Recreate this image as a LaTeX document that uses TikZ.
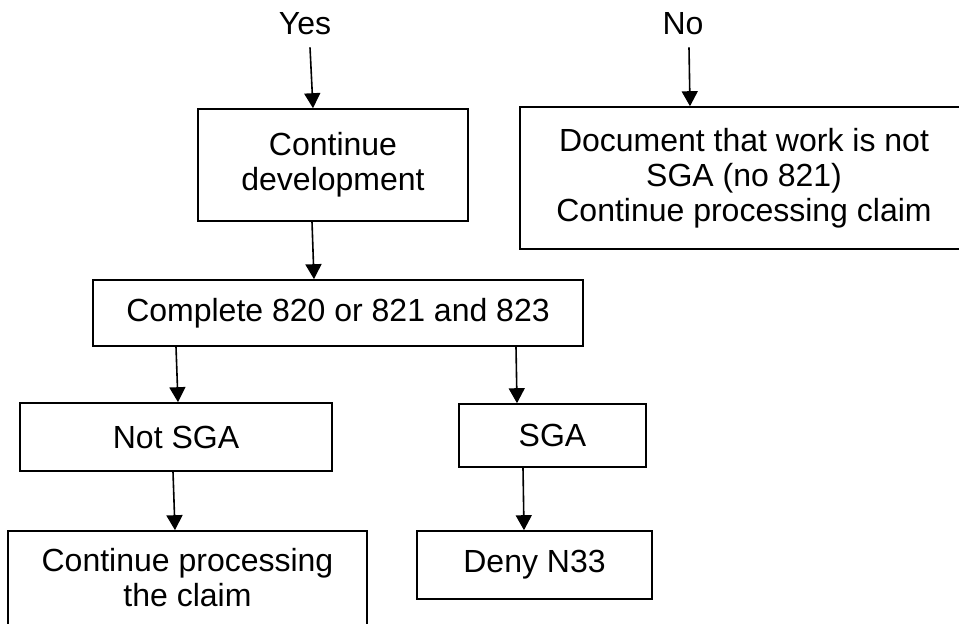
\documentclass[tikz,border=0pt]{standalone}
\usepackage{fontspec}
\setmainfont{Liberation Sans}
\usetikzlibrary{arrows.meta}
\begin{document}
\begin{tikzpicture}[x=1pt,y=-1pt,
  every node/.style={font=\fontsize{32}{35}\selectfont, align=center, inner sep=0pt},
  box/.style={draw, line width=1.6pt, rectangle},
  arr/.style={line width=1.6pt, -{Triangle[length=15pt,width=16pt]}}]
\useasboundingbox (0,0) rectangle (959,624);
% labels
\node (yes) at (305,24) {Yes};
\node (no) at (683,24) {No};
% boxes
\node[box, minimum width=270pt, minimum height=112pt] (dev) at (333,165) {Continue\\development};
\node[box, minimum width=448pt, minimum height=142pt] (doc) at (744,178) {Document that work is not\\SGA (no 821)\\Continue processing claim};
\node[box, minimum width=490pt, minimum height=66pt] (comp) at (338,313) {Complete 820 or 821 and 823};
\node[box, minimum width=312pt, minimum height=68pt] (notsga) at (176,437) {Not SGA};
\node[box, minimum width=187pt, minimum height=63pt] (sga) at (552.5,435.5) {SGA};
\node[box, minimum width=359pt, minimum height=109pt] (cont) at (187.5,585.5) {};
\node (conttext) at (187.5,578) {Continue processing\\the claim};
\node[box, minimum width=235pt, minimum height=68pt] (deny) at (534.5,565) {Deny N33};
% connectors
\draw[arr] ([xshift=5pt,yshift=-12pt]yes.south) -- ([xshift=-20pt]dev.north);
\draw[arr] ([xshift=6pt,yshift=-12pt]no.south) -- ([xshift=-54pt]doc.north);
\draw[arr] ([xshift=-21pt]dev.south) -- ([xshift=-24pt]comp.north);
\draw[arr] ([xshift=-162pt]comp.south) -- ([xshift=2pt]notsga.north);
\draw[arr] ([xshift=178pt]comp.south) -- ([xshift=-35.5pt]sga.north);
\draw[arr] ([xshift=-3pt]notsga.south) -- ([xshift=-12.5pt]cont.north);
\draw[arr] ([xshift=-29.5pt]sga.south) -- ([xshift=-10.5pt]deny.north);
\end{tikzpicture}
\end{document}
